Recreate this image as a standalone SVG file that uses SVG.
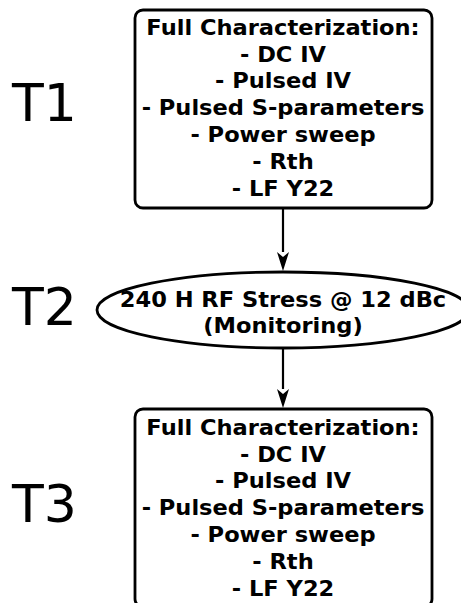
<svg xmlns="http://www.w3.org/2000/svg" width="461" height="603" viewBox="0 0 461 603">
<style>
.box{fill:#fff;stroke:#000;stroke-width:2.8}
.bt{font-family:"DejaVu Sans",sans-serif;font-weight:bold;font-size:20.5px;text-anchor:middle;fill:#000}
.tl{font-family:"DejaVu Sans",sans-serif;font-size:52px;fill:#000}
.conn{stroke:#000;stroke-width:2.2;fill:none}
.ah{fill:#000}
</style>
<rect width="461" height="603" fill="#fff"/>
<g id="labels">
<text class="tl" x="12" y="121">T1</text>
<text class="tl" x="12" y="325">T2</text>
<text class="tl" x="12" y="522">T3</text>
</g>
<g id="connectors">
<line class="conn" x1="283" y1="209" x2="283" y2="252"/>
<path class="ah" d="M277,252 L283,271 L289,252 L283,257 Z"/>
<line class="conn" x1="283" y1="348" x2="283" y2="389"/>
<path class="ah" d="M277,389 L283,408 L289,389 L283,394 Z"/>
</g>
<g id="node1">
<rect class="box" x="135" y="10" width="297" height="198" rx="8"/>
<g transform="translate(283 0) scale(1.1 1)">
<text class="bt" x="0" y="35">Full Characterization:</text>
<text class="bt" x="0" y="62">- DC IV</text>
<text class="bt" x="0" y="88">- Pulsed IV</text>
<text class="bt" x="0" y="115">- Pulsed S-parameters</text>
<text class="bt" x="0" y="142">- Power sweep</text>
<text class="bt" x="0" y="169">- Rth</text>
<text class="bt" x="0" y="196">- LF Y22</text>
</g>
</g>
<g id="node2">
<ellipse class="box" cx="283" cy="310" rx="186" ry="38"/>
<g transform="translate(283 0) scale(1.1 1)">
<text class="bt" x="0" y="307">240 H RF Stress @ 12 dBc</text>
<text class="bt" x="0" y="333">(Monitoring)</text>
</g>
</g>
<g id="node3">
<rect class="box" x="135" y="409" width="297" height="198" rx="8"/>
<g transform="translate(283 0) scale(1.1 1)">
<text class="bt" x="0" y="435">Full Characterization:</text>
<text class="bt" x="0" y="462">- DC IV</text>
<text class="bt" x="0" y="488">- Pulsed IV</text>
<text class="bt" x="0" y="515">- Pulsed S-parameters</text>
<text class="bt" x="0" y="542">- Power sweep</text>
<text class="bt" x="0" y="569">- Rth</text>
<text class="bt" x="0" y="596">- LF Y22</text>
</g>
</g>
</svg>
